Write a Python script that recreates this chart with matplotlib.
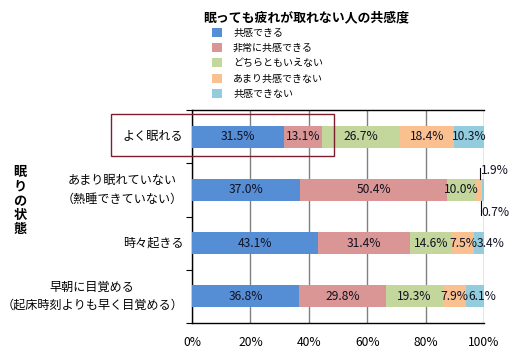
import matplotlib
matplotlib.use("Agg")
import matplotlib.pyplot as plt
from matplotlib.patches import Rectangle, Patch
import numpy as np

plt.rcParams['font.family'] = ['Noto Sans CJK JP', 'DejaVu Sans']

title = "眠っても疲れが取れない人の共感度"
ylabel_chars = ["眠", "り", "の", "状", "態"]
categories = ["よく眠れる",
              "あまり眠れていない\n（熱睡できていない）",
              "時々起きる",
              "早朝に目覚める\n（起床時刻よりも早く目覚める）"]
series_names = ["共感できる", "非常に共感できる", "どちらともいえない", "あまり共感できない", "共感できない"]
colors = ["#558ED5", "#D99694", "#C3D69B", "#FAC090", "#93CDDD"]
values = [
    [31.5, 37.0, 43.1, 36.8],
    [13.1, 50.4, 31.4, 29.8],
    [26.7, 10.0, 14.6, 19.3],
    [18.4, 1.9, 7.5, 7.9],
    [10.3, 0.7, 3.4, 6.1],
]
xticks = [0, 20, 40, 60, 80, 100]
xticklabels = ["0%", "20%", "40%", "60%", "80%", "100%"]

W, H = 515, 360
fig = plt.figure(figsize=(W / 100, H / 100), dpi=100)
ax = fig.add_axes([192 / W, 1 - 323 / H, 292 / W, 213 / H])

y = np.arange(len(categories))
left = np.zeros(len(categories))
bar_h = 0.41
row_labels = {ci: [] for ci in range(len(categories))}
for si, (name, col) in enumerate(zip(series_names, colors)):
    vals = np.array(values[si])
    ax.barh(y, vals, left=left, height=bar_h, color=col, edgecolor='none', zorder=3, label=name)
    for ci, v in enumerate(vals):
        if ci == 1 and si >= 3:
            continue
        t = ax.text(left[ci] + v / 2, y[ci], f"{v:.1f}%", ha='center', va='center',
                    fontsize=8.7, color='#111122', zorder=5, clip_on=False)
        row_labels[ci].append(t)
    left += vals

# outside labels with leader lines for small segments (row 1)
ax.plot([98.6, 98.6], [0.59, 1 - bar_h / 2], color='black', lw=0.8, zorder=4, clip_on=False)
ax.text(99.0, 0.645, f"{values[3][1]:.1f}%", ha='left', va='center', fontsize=8.7,
        color='#111122', zorder=5, clip_on=False)
ax.plot([99.0, 99.0], [1 + bar_h / 2, 1.467], color='black', lw=0.8, zorder=4, clip_on=False)
ax.text(99.2, 1.43, f"{values[4][1]:.1f}%", ha='left', va='center', fontsize=8.7,
        color='#111122', zorder=5, clip_on=False)

ax.set_xlim(0, 100)
ax.set_ylim(3.5, -0.5)
ax.set_xticks(xticks)
ax.set_xticklabels(xticklabels, fontsize=8.7)
ax.tick_params(axis='x', length=0, pad=9)
ax.set_yticks(y)
ax.set_yticklabels([])
ax.tick_params(axis='y', which='major', length=0)
ax.set_yticks(np.arange(-0.5, 4.0, 1.0), minor=True)
ax.tick_params(axis='y', which='minor', length=4, direction='out', width=0.8)
ax.xaxis.grid(True, color='#808080', lw=1, zorder=0)
ax.set_axisbelow(True)
for s in ['left', 'bottom', 'top']:
    ax.spines[s].set_color('black')
    ax.spines[s].set_linewidth(1)
ax.spines['right'].set_visible(False)

for ci, cat in enumerate(categories):
    ax.text(-3.0, y[ci], cat, ha='right', va='center', multialignment='center',
            fontsize=8.7, color='black', transform=ax.transData, linespacing=1.5)

fig.text(306 / W, 1 - 17 / H, title, ha='center', va='center', fontsize=9.3, fontweight='bold')

for i, ch in enumerate(ylabel_chars):
    fig.text(20 / W, 1 - (172 + 14.3 * i) / H, ch, ha='center', va='center',
             fontsize=9.5, fontweight='bold')

handles = [Patch(facecolor=c, edgecolor='none') for c in colors]
fig.legend(handles, series_names, loc='upper left', bbox_to_anchor=(212 / W, 1 - 28 / H),
           frameon=False, fontsize=7.2, handlelength=1.0, handleheight=1.0,
           handletextpad=1.1, labelspacing=0.52, borderpad=0, borderaxespad=0)

fig.patches.append(Rectangle((111 / W, 1 - 156 / H), 223 / W, 42 / H, transform=fig.transFigure,
                             fill=False, edgecolor='#7B1F2F', lw=1, zorder=10))

# nudge overlapping data labels to the right, as the original chart does
fig.canvas.draw()
renderer = fig.canvas.get_renderer()
px_per_unit = ax.get_window_extent().width / 100.0
for ci, labels in row_labels.items():
    for a, b in zip(labels[:-1], labels[1:]):
        ra = a.get_window_extent(renderer)
        rb = b.get_window_extent(renderer)
        if rb.x0 < ra.x1:
            x, yy = b.get_position()
            b.set_position((x + (ra.x1 - rb.x0) / px_per_unit, yy))

fig.savefig("out.png", dpi=100)
